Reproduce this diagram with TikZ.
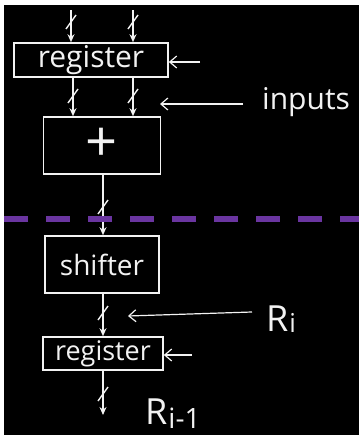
\documentclass[tikz,border=0pt]{standalone}
\usepackage{fontspec}
\setmainfont{Open Sans}
\usetikzlibrary{arrows.meta}
\definecolor{chalk}{HTML}{F2F2F2}
\definecolor{divider}{HTML}{6A35A0}
\begin{document}
\begin{tikzpicture}[x=1pt,y=-1pt,
  chalkbox/.style={draw=chalk,line width=1.6pt,inner sep=0pt,text=chalk},
  wire/.style={draw=chalk,line width=1.6pt,-{Stealth[length=8pt,width=7pt]}},
  pointer/.style={draw=chalk,line width=1.2pt,-{Straight Barb[length=7pt,width=12pt]}},
  tick/.style={draw=chalk,line width=1.4pt},
  label/.style={text=chalk,inner sep=0pt}]
\useasboundingbox (0,0) rectangle (359,435);
\fill[white] (0,0) rectangle (359,435);
\fill[black] (4,5) rectangle (359,435);
% boxes
\node[chalkbox,minimum width=154pt,minimum height=34pt,font=\fontsize{30}{30}\selectfont] (reg1) at (91,60) {register};
\node[chalkbox,minimum width=117pt,minimum height=57pt,font=\fontsize{56}{56}\selectfont\addfontfeatures{Weight=300}] (add) at (102,145.5) {\raisebox{2pt}{+}};
\node[chalkbox,minimum width=114pt,minimum height=57pt,font=\fontsize{28}{28}\selectfont] (shift) at (102,264.5) {shifter};
\node[chalkbox,minimum width=120pt,minimum height=33pt,font=\fontsize{27}{27}\selectfont] (reg2) at (103,353.5) {register};
% free ends
\coordinate (inA) at (71,10);
\coordinate (inB) at (133,10);
\coordinate (out) at (103,415);
\coordinate (clk1) at (200,62);
\coordinate (clk2) at (192,355);
\coordinate (inputsTail) at (243,104);
\coordinate (inputsTip) at (160,104);
\coordinate (riTail) at (252,312);
\coordinate (riTip) at (128,316);
% wires
\draw[wire] (inA) -- (inA |- reg1.north);
\draw[wire] (inB) -- (inB |- reg1.north);
\draw[wire] (reg1.south -| 73,0) -- (add.north -| 73,0);
\draw[wire] (reg1.south -| 133,0) -- (add.north -| 133,0);
\draw[wire] (add.south -| 103,0) -- (shift.north -| 103,0);
\draw[wire] (shift.south -| 103,0) -- (reg2.north -| 103,0);
\draw[wire] (reg2.south -| 103,0) -- (out);
% clock inputs
\draw[pointer] (clk1) -- (clk1 -| reg1.east);
\draw[pointer] (clk2) -- (clk2 -| reg2.east);
% ticks
\foreach \x/\y in {71/22,133/22,73/96,133/96,103/207,103/313,103/394}
  \draw[tick] (\x-5,\y+7) -- (\x+5,\y-7);
% divider
\draw[divider,line width=6pt,dash pattern=on 24pt off 18pt] (4,219) -- (359,219);
% annotations
\draw[pointer] (inputsTail) -- (inputsTip);
\draw[pointer] (riTail) -- (riTip);
\node[label,anchor=base west,font=\fontsize{30}{30}\selectfont] (inputs) at (262,110) {inputs};
\node[label,anchor=base west,font=\fontsize{36}{36}\selectfont] (ri) at (266,331) {R\kern1pt{\fontsize{26}{26}\selectfont\raisebox{-1pt}{i}}};
\node[label,anchor=base west,font=\fontsize{36}{36}\selectfont] (rim) at (145,424) {R\kern1pt{\fontsize{28}{28}\selectfont\raisebox{-4pt}{i-1}}};
\end{tikzpicture}
\end{document}
